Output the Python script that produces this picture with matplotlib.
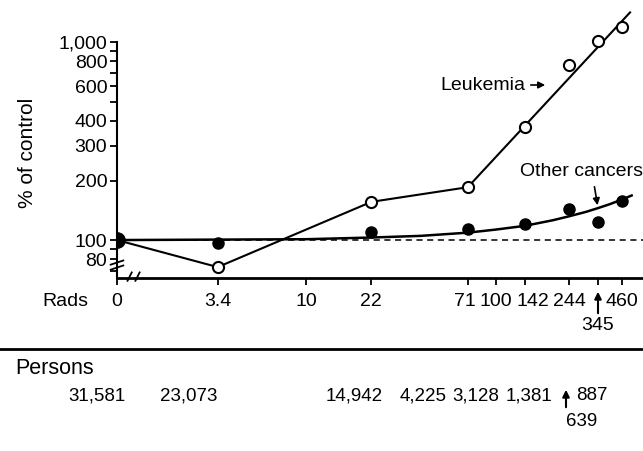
import numpy as np
import matplotlib
matplotlib.use("Agg")
import matplotlib.pyplot as plt
import matplotlib.transforms as mtransforms
from matplotlib.ticker import FixedLocator, NullFormatter

plt.rcParams["font.family"] = ["Liberation Sans", "DejaVu Sans"]
plt.rcParams["font.size"] = 14

# ── data ──────────────────────────────────────────────────────────
doses = [0, 3.4, 22, 71, 142, 244, 345, 460]
leukemia = [100, 73, 156, 185, 372, 765, 1020, 1190]
other = [100, 97, 110, 114, 120, 143, 123, 157]

# leukemia: joined points up to 71 rads, then straight fit line
leuk_fit_dose = [71, 510]
leuk_fit_val = [185, 1415]

# other cancers: smooth fitted curve
other_fit_dose = [0, 10, 22, 40, 71, 100, 142, 200, 244, 300, 345, 400, 460, 520]
other_fit_val = [100, 101, 103, 105, 109, 113, 118, 126, 132, 139, 145, 152, 160, 168]

tick_doses = [0, 3.4, 10, 22, 71, 100, 142, 244, 345, 460]
persons = ["31,581", "23,073", "14,942", "4,225", "3,128", "1,381", "887"]
persons_low = "639"


def pos(d):
    # dose 0 is drawn at the left edge of the log axis (1 rad)
    d = np.asarray(d, dtype=float)
    return np.where(d == 0, 1.0, d)


W, H = 643, 451
fig = plt.figure(figsize=(W / 100, H / 100), dpi=100)
ax = fig.add_axes([117 / W, 1 - 278 / H, 1 - 117 / W, 278 / H])
ax.set_xscale("log")
ax.set_yscale("log")
ax.set_xlim(1, 597)
ax.set_ylim(64.3, 1635)

# reference line at 100 %
ax.axhline(100, color="black", lw=1.1, ls=(0, (4, 3)), zorder=1)

# other cancers
ax.plot(pos(other_fit_dose), other_fit_val, color="black", lw=1.8, zorder=2)
ax.plot(pos(doses), other, "o", color="black", ms=8, zorder=4)

# leukemia
ax.plot(pos(doses[:4]), leukemia[:4], color="black", lw=1.5, zorder=3)
ax.plot(leuk_fit_dose, leuk_fit_val, color="black", lw=1.5, zorder=3)
ax.plot(pos(doses[1:]), leukemia[1:], "o", mfc="white", mec="black", mew=1.5, ms=8, zorder=5)
ax.plot(pos(doses[:1]), other[:1], "o", color="black", ms=11, zorder=6)

# axes styling
for s in ["top", "right"]:
    ax.spines[s].set_visible(False)
ax.spines["left"].set_bounds(64.3, 1000)
ax.spines["left"].set_linewidth(1.5)
ax.spines["bottom"].set_linewidth(2)

ax.yaxis.set_major_locator(FixedLocator([80, 100, 200, 300, 400, 600, 800, 1000]))
ax.yaxis.set_minor_locator(FixedLocator([70, 90, 500, 700, 900]))
ax.set_yticklabels(["80", "100", "200", "300", "400", "600", "800", "1,000"])
ax.yaxis.set_minor_formatter(NullFormatter())
ax.tick_params(axis="y", which="both", direction="out", length=5, width=1.3, pad=2, labelsize=14)

ax.xaxis.set_major_locator(FixedLocator(pos(tick_doses)))
ax.xaxis.set_minor_locator(FixedLocator([]))
ax.set_xticklabels([("" if d == 345 else f"{d:g}") for d in tick_doses])
ax.tick_params(axis="x", direction="out", length=5, width=1.3, pad=6, labelsize=14)

# the crowded labels near 100 rads are nudged apart, as in the original
nudge = {71: -3, 142: 8}
for d, lab in zip(tick_doses, ax.get_xticklabels()):
    if d in nudge:
        lab.set_transform(lab.get_transform() +
                          mtransforms.ScaledTranslation(nudge[d] / 100, 0, fig.dpi_scale_trans))

ax.set_ylabel("% of control", fontsize=15)
ax.yaxis.set_label_coords(-0.152, 0.45)

# axis break marks
bk = dict(color="black", lw=1.3, transform=ax.transAxes, clip_on=False)
for dy in (0.0, 0.018):
    ax.plot([-0.012, 0.012], [0.03 + dy, 0.045 + dy], **bk)
for dx in (0.0, 0.015):
    ax.plot([0.02 + dx, 0.028 + dx], [-0.01, 0.02], **bk)

# series labels
ax.annotate("", xy=(548 / W, 1 - 85 / H), xytext=(528 / W, 1 - 85 / H),
            xycoords="figure fraction",
            arrowprops=dict(arrowstyle="-|>", color="black", lw=1.2, mutation_scale=10))
fig.text(525 / W, 1 - 85 / H, "Leukemia", ha="right", va="center", fontsize=14)
fig.text(643 / W, 1 - 172 / H, "Other cancers", ha="right", va="center", fontsize=14)
ax.annotate("", xy=(598 / W, 1 - 208 / H), xytext=(594 / W, 1 - 184 / H),
            xycoords="figure fraction",
            arrowprops=dict(arrowstyle="-|>", color="black", lw=1.2, mutation_scale=10))

# 345 label below the axis with an arrow
fig.text(42 / W, 1 - 302 / H, "Rads", ha="left", va="center", fontsize=14)
fig.text(598 / W, 1 - 326 / H, "345", ha="center", va="center", fontsize=14)
ax.annotate("", xy=(598 / W, 1 - 289 / H), xytext=(598 / W, 1 - 316 / H),
            xycoords="figure fraction",
            arrowprops=dict(arrowstyle="-|>", color="black", lw=1.5, mutation_scale=10))

# persons table below
fig.add_artist(plt.Line2D([0, 1], [1 - 349 / H, 1 - 349 / H], color="black", lw=2))
fig.text(15 / W, 1 - 369 / H, "Persons", ha="left", va="center", fontsize=15.5)
persons_x = [97, 189, 354, 423, 476, 529, 592]
for x, t in zip(persons_x, persons):
    fig.text(x / W, 1 - 396 / H, t, ha="center", va="center", fontsize=13.5)
fig.text(582 / W, 1 - 422 / H, persons_low, ha="center", va="center", fontsize=13.5)
ax.annotate("", xy=(566 / W, 1 - 387 / H), xytext=(566 / W, 1 - 410 / H),
            xycoords="figure fraction",
            arrowprops=dict(arrowstyle="-|>", color="black", lw=1.5, mutation_scale=10))

fig.savefig("out.png", dpi=100, facecolor="white")
